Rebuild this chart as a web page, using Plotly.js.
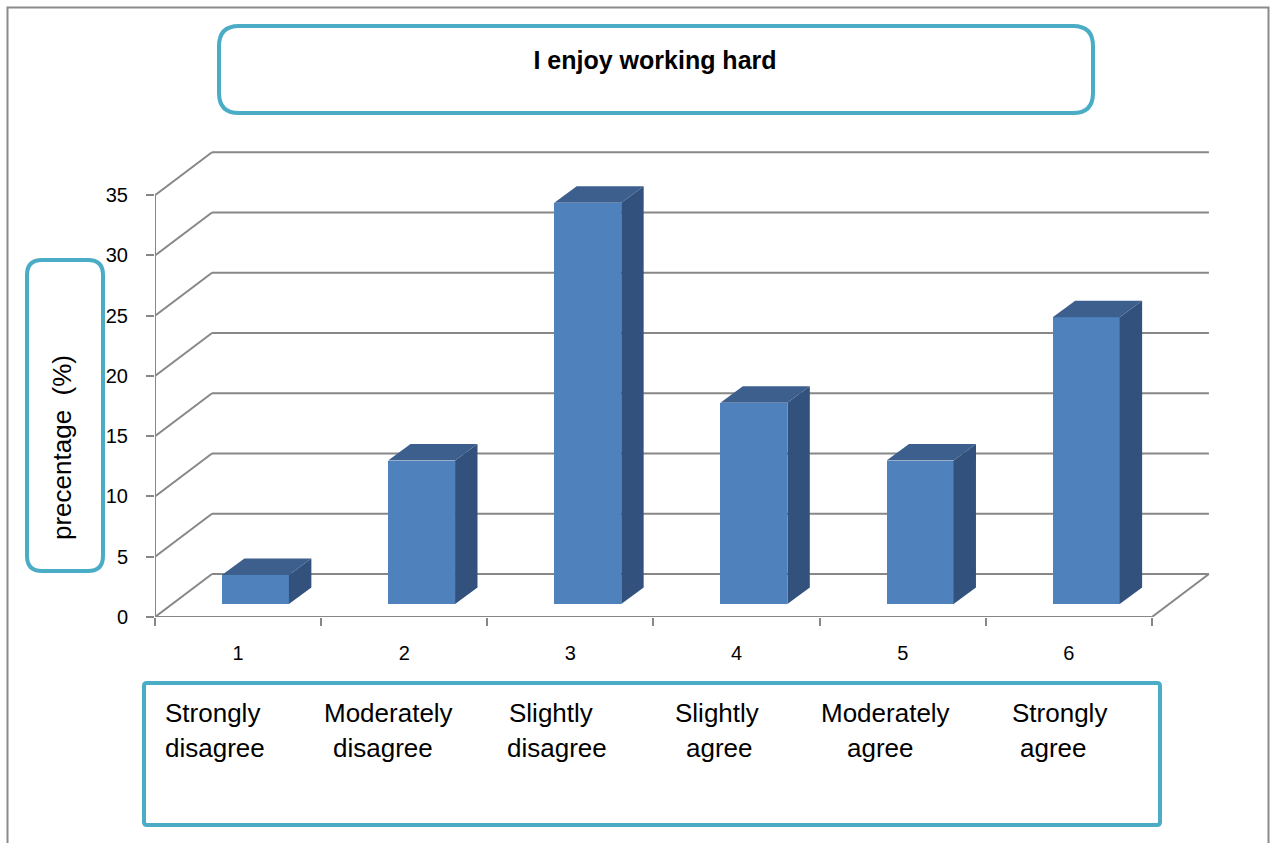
<!DOCTYPE html>
<html>
<head>
<meta charset="utf-8">
<script src="https://cdn.plot.ly/plotly-3.0.1.min.js"></script>
<style>html,body{margin:0;padding:0;background:#fff;}#chart{width:1271px;height:843px;}</style>
</head>
<body>
<div id="chart"></div>
<script>
// ---- data ----
const tickLabels = ['1', '2', '3', '4', '5', '6'];
const values = [2.4, 11.9, 33.3, 16.7, 11.9, 23.8];
const catLine1 = ['Strongly', 'Moderately', 'Slightly', 'Slightly', 'Moderately', 'Strongly'];
const catLine2 = ['disagree', 'disagree', 'disagree', 'agree', 'agree', 'agree'];
const yTicks = [0, 5, 10, 15, 20, 25, 30, 35];
const chartTitle = 'I enjoy working hard';
const yTitle = 'precentage\u00a0\u00a0(%)';

// ---- geometry / style ----
const W = 1271, H = 843;
const M = {l: 155, r: 36, t: 147, b: 226};
const plotW = W - M.l - M.r, plotH = H - M.t - M.b;
const X_RANGE = [0.5, 7.0], Y_RANGE = [0, 39];
const WALL_DX = 0.343, WALL_DY = 3.57;      // depth of floor / back wall
const BAR_SHIFT = 0.1045, BAR_W = 0.403, BAR_BASE = 1.08;
const DEPTH_DX = 0.135, DEPTH_DY = 1.37;     // bar depth
const FRONT = '#4F81BD', TOP = '#3C5F8E', SIDE = '#32527D';
const GRID = '#878787', TEAL = '#4BACC6';
const FONT = 'Liberation Sans, Arial, sans-serif';

const xs = tickLabels.map((_, i) => i + 1);
const nCat = xs.length;
const xLo = 0.5, xHi = nCat + 0.5;
const boundaries = [];
for (let i = 0; i <= nCat; i++) boundaries.push(xLo + i);

const px2x = px => (px - M.l) / plotW;
const py2y = py => (H - M.b - py) / plotH;

function rr(x0, y0, x1, y1, r) {
  const X = px2x, Y = py2y;
  return `M${X(x0 + r)},${Y(y0)} L${X(x1 - r)},${Y(y0)} Q${X(x1)},${Y(y0)} ${X(x1)},${Y(y0 + r)} ` +
    `L${X(x1)},${Y(y1 - r)} Q${X(x1)},${Y(y1)} ${X(x1 - r)},${Y(y1)} L${X(x0 + r)},${Y(y1)} ` +
    `Q${X(x0)},${Y(y1)} ${X(x0)},${Y(y1 - r)} L${X(x0)},${Y(y0 + r)} Q${X(x0)},${Y(y0)} ${X(x0 + r)},${Y(y0)} Z`;
}

// ---- traces ----
const traces = [];
// side and top faces
xs.forEach((x, i) => {
  const L = x + BAR_SHIFT - BAR_W / 2, R = x + BAR_SHIFT + BAR_W / 2;
  const top = BAR_BASE + values[i];
  traces.push({
    type: 'scatter', mode: 'lines', fill: 'toself', fillcolor: SIDE, line: {width: 0},
    x: [R, R, R + DEPTH_DX, R + DEPTH_DX, R],
    y: [BAR_BASE, top, top + DEPTH_DY, BAR_BASE + DEPTH_DY, BAR_BASE],
    hoverinfo: 'skip', showlegend: false
  });
  traces.push({
    type: 'scatter', mode: 'lines', fill: 'toself', fillcolor: TOP, line: {width: 0},
    x: [L, R, R + DEPTH_DX, L + DEPTH_DX, L],
    y: [top, top, top + DEPTH_DY, top + DEPTH_DY, top],
    hoverinfo: 'skip', showlegend: false
  });
});
// front faces
traces.push({
  type: 'bar', x: xs, y: values, base: BAR_BASE, width: BAR_W,
  offset: BAR_SHIFT - BAR_W / 2,
  marker: {color: FRONT, line: {width: 0}}, showlegend: false,
  hovertemplate: '%{x}: %{y}%<extra></extra>'
});
// invisible trace to activate boundary tick axis
traces.push({
  type: 'scatter', mode: 'markers', x: [boundaries[0]], y: [yTicks[0]],
  xaxis: 'x2', yaxis: 'y', marker: {opacity: 0}, hoverinfo: 'skip', showlegend: false
});

// ---- shapes ----
const shapes = [];
const gl = {color: GRID, width: 2};
yTicks.forEach(v => {
  shapes.push({type: 'line', xref: 'x', yref: 'y', layer: 'below', line: gl,
    x0: xLo + WALL_DX, x1: xHi + WALL_DX, y0: v + WALL_DY, y1: v + WALL_DY});
  shapes.push({type: 'line', xref: 'x', yref: 'y', layer: 'below', line: gl,
    x0: xLo, x1: xLo + WALL_DX, y0: v, y1: v + WALL_DY});
});
// right floor edge
shapes.push({type: 'line', xref: 'x', yref: 'y', layer: 'below', line: gl,
  x0: xHi, x1: xHi + WALL_DX, y0: yTicks[0], y1: yTicks[0] + WALL_DY});
// axis lines
shapes.push({type: 'line', xref: 'x', yref: 'y', layer: 'below', line: gl,
  x0: xLo, x1: xLo, y0: yTicks[0], y1: yTicks[yTicks.length - 1]});
shapes.push({type: 'line', xref: 'x', yref: 'y', layer: 'below', line: gl,
  x0: xLo, x1: xHi, y0: yTicks[0], y1: yTicks[0]});
// outer frame
shapes.push({type: 'rect', xref: 'paper', yref: 'paper', line: {color: '#8a8a8a', width: 2},
  x0: px2x(7.5), x1: px2x(1268.5), y0: py2y(7.5), y1: py2y(870)});
// title box, y title box, category box
shapes.push({type: 'path', xref: 'paper', yref: 'paper', line: {color: TEAL, width: 4},
  path: rr(219, 26, 1093, 113, 20)});
shapes.push({type: 'path', xref: 'paper', yref: 'paper', line: {color: TEAL, width: 4},
  path: rr(27, 260, 103, 571, 15)});
shapes.push({type: 'path', xref: 'paper', yref: 'paper', line: {color: TEAL, width: 4},
  path: rr(144, 683, 1160, 825, 3)});

// ---- annotations ----
const line1X = [163, 322, 507, 673, 819, 1010];
const line2X = [163, 331, 505, 684, 845, 1018];
const annotations = [];
catLine1.forEach((t, i) => {
  annotations.push({xref: 'paper', yref: 'paper', x: px2x(line1X[i]), y: py2y(713),
    xanchor: 'left', yanchor: 'middle', text: t, showarrow: false,
    font: {family: FONT, size: 26, color: '#000'}});
  annotations.push({xref: 'paper', yref: 'paper', x: px2x(line2X[i]), y: py2y(748),
    xanchor: 'left', yanchor: 'middle', text: catLine2[i], showarrow: false,
    font: {family: FONT, size: 26, color: '#000'}});
});
annotations.push({xref: 'paper', yref: 'paper', x: px2x(62), y: py2y(448),
  xanchor: 'center', yanchor: 'middle', text: yTitle, textangle: -90, showarrow: false,
  font: {family: FONT, size: 26, color: '#000'}});

const layout = {
  width: W, height: H, margin: M,
  paper_bgcolor: '#fff', plot_bgcolor: 'rgba(0,0,0,0)',
  showlegend: false,
  title: {text: '<b>' + chartTitle + '</b>', x: 655 / W, xref: 'container', xanchor: 'center',
    y: 1 - 60 / H, yref: 'container', yanchor: 'middle',
    font: {family: FONT, size: 25, color: '#000'}},
  xaxis: {range: X_RANGE, tickvals: xs, ticktext: tickLabels, ticks: '', showgrid: false,
    zeroline: false, showline: false, ticklabelstandoff: 22,
    tickfont: {family: FONT, size: 20, color: '#000'}, fixedrange: true},
  xaxis2: {range: X_RANGE, overlaying: 'x', anchor: 'y', tickvals: boundaries, ticks: 'outside',
    ticklen: 8, tickwidth: 2, tickcolor: GRID, showticklabels: false, showgrid: false,
    zeroline: false, showline: false, fixedrange: true},
  yaxis: {range: Y_RANGE, tickvals: yTicks, ticks: 'outside', ticklen: 8, tickwidth: 2,
    tickcolor: GRID, showgrid: false, zeroline: false, showline: false, ticklabelstandoff: 14,
    tickfont: {family: FONT, size: 20, color: '#000'}, fixedrange: true},
  shapes: shapes, annotations: annotations, bargap: 0
};

Plotly.newPlot('chart', traces, layout, {displayModeBar: false, staticPlot: true});
</script>
</body>
</html>
